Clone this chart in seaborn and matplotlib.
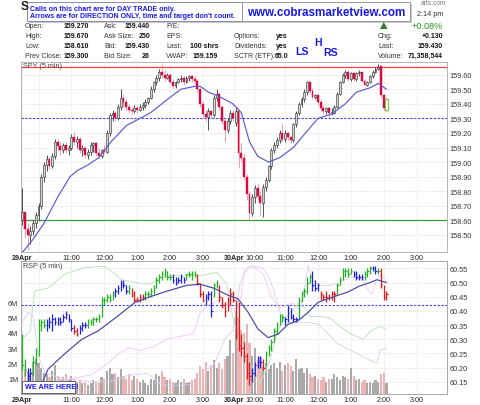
import numpy as np
import matplotlib
matplotlib.use("Agg")
import matplotlib.pyplot as plt
import seaborn as sns
from matplotlib.patches import Rectangle, Polygon


# SPY 5 min candles, 29 Apr (78 bars) then 30 Apr up to 2:05 (56 bars)
spy_open = [158.60, 158.66, 158.54, 158.50, 158.53, 158.58, 158.64, 158.70, 158.90, 158.98,
            159.02, 158.97, 159.04, 159.14, 159.11, 159.08, 159.12, 159.08, 159.10, 159.17,
            159.14, 159.16, 159.08, 159.10, 159.05, 159.07, 159.12, 159.13, 159.06, 159.04,
            159.08, 159.07, 159.20, 159.32, 159.34, 159.30, 159.38, 159.44, 159.41, 159.38,
            159.36, 159.35, 159.37, 159.36, 159.38, 159.39, 159.41, 159.44, 159.50, 159.55,
            159.58, 159.62, 159.60, 159.58, 159.60, 159.55, 159.52, 159.55, 159.57, 159.58,
            159.55, 159.58, 159.59, 159.57, 159.56, 159.50, 159.40, 159.33, 159.31, 159.35,
            159.32, 159.44, 159.47, 159.38, 159.28, 159.22, 159.28, 159.34,
            159.27, 159.35, 159.06, 159.03, 158.90, 158.78, 158.65, 158.76, 158.82, 158.77,
            158.72, 158.83, 158.88, 158.97, 159.08, 159.12, 159.15, 159.20, 159.16, 159.20,
            159.17, 159.15, 159.26, 159.34, 159.40, 159.43, 159.48, 159.55, 159.49, 159.45,
            159.46, 159.41, 159.37, 159.35, 159.37, 159.34, 159.34, 159.38, 159.47, 159.55,
            159.60, 159.62, 159.57, 159.61, 159.57, 159.61, 159.62, 159.56, 159.53, 159.55,
            159.59, 159.62, 159.64, 159.66, 159.46, 159.36]
spy_high = [158.82, 158.66, 158.58, 158.56, 158.60, 158.66, 158.72, 158.92, 159.00, 159.05,
            159.04, 159.06, 159.16, 159.16, 159.14, 159.13, 159.14, 159.12, 159.19, 159.21,
            159.18, 159.17, 159.12, 159.11, 159.09, 159.14, 159.14, 159.14, 159.10, 159.09,
            159.12, 159.22, 159.34, 159.36, 159.35, 159.40, 159.50, 159.47, 159.43, 159.40,
            159.38, 159.39, 159.39, 159.40, 159.41, 159.43, 159.45, 159.52, 159.56, 159.60,
            159.64, 159.67, 159.63, 159.61, 159.61, 159.57, 159.56, 159.58, 159.60, 159.59,
            159.59, 159.60, 159.60, 159.59, 159.57, 159.51, 159.42, 159.36, 159.37, 159.36,
            159.46, 159.50, 159.48, 159.39, 159.30, 159.30, 159.36, 159.36,
            159.38, 159.36, 159.13, 159.06, 158.92, 158.80, 158.78, 158.84, 158.85, 158.80,
            158.85, 158.90, 158.98, 159.10, 159.14, 159.17, 159.22, 159.27, 159.22, 159.21,
            159.18, 159.27, 159.35, 159.41, 159.45, 159.50, 159.56, 159.56, 159.51, 159.47,
            159.47, 159.43, 159.39, 159.38, 159.38, 159.37, 159.39, 159.48, 159.56, 159.61,
            159.63, 159.63, 159.62, 159.62, 159.62, 159.63, 159.62, 159.57, 159.56, 159.60,
            159.63, 159.65, 159.67, 159.66, 159.47, 159.44]
spy_low = [158.57, 158.48, 158.40, 158.44, 158.50, 158.55, 158.60, 158.68, 158.86, 158.94,
           158.95, 158.96, 159.02, 159.08, 159.05, 159.06, 159.06, 159.05, 159.08, 159.12,
           159.10, 159.06, 159.04, 159.03, 159.02, 159.05, 159.07, 159.04, 159.03, 159.03,
           159.06, 159.06, 159.18, 159.28, 159.28, 159.29, 159.36, 159.38, 159.36, 159.34,
           159.33, 159.34, 159.34, 159.35, 159.36, 159.37, 159.40, 159.43, 159.48, 159.53,
           159.56, 159.58, 159.56, 159.57, 159.54, 159.50, 159.51, 159.54, 159.55, 159.53,
           159.54, 159.56, 159.55, 159.54, 159.48, 159.38, 159.31, 159.28, 159.22, 159.30,
           159.31, 159.42, 159.36, 159.26, 159.14, 159.20, 159.26, 159.28,
           159.25, 158.96, 159.00, 158.88, 158.74, 158.61, 158.63, 158.72, 158.75, 158.64,
           158.62, 158.80, 158.86, 158.95, 159.06, 159.10, 159.13, 159.14, 159.14, 159.15,
           159.13, 159.14, 159.24, 159.32, 159.38, 159.41, 159.46, 159.47, 159.43, 159.43,
           159.39, 159.35, 159.33, 159.33, 159.31, 159.32, 159.33, 159.37, 159.46, 159.54,
           159.58, 159.56, 159.56, 159.56, 159.56, 159.59, 159.55, 159.52, 159.52, 159.54,
           159.58, 159.61, 159.63, 159.44, 159.35, 159.35]
spy_close = [158.66, 158.54, 158.50, 158.53, 158.58, 158.64, 158.70, 158.90, 158.98, 159.02,
             158.97, 159.04, 159.14, 159.11, 159.08, 159.12, 159.08, 159.10, 159.17, 159.14,
             159.16, 159.08, 159.10, 159.05, 159.07, 159.12, 159.13, 159.06, 159.04, 159.08,
             159.07, 159.20, 159.32, 159.34, 159.30, 159.38, 159.44, 159.41, 159.38, 159.36,
             159.35, 159.37, 159.36, 159.38, 159.39, 159.41, 159.44, 159.50, 159.55, 159.58,
             159.62, 159.60, 159.58, 159.60, 159.55, 159.52, 159.55, 159.57, 159.58, 159.55,
             159.58, 159.59, 159.57, 159.56, 159.50, 159.40, 159.33, 159.31, 159.35, 159.32,
             159.44, 159.47, 159.38, 159.28, 159.22, 159.28, 159.34, 159.30,
             159.35, 159.06, 159.03, 158.90, 158.78, 158.65, 158.76, 158.82, 158.77, 158.72,
             158.83, 158.88, 158.97, 159.08, 159.12, 159.15, 159.20, 159.16, 159.20, 159.17,
             159.15, 159.26, 159.34, 159.40, 159.43, 159.48, 159.55, 159.49, 159.45, 159.46,
             159.41, 159.37, 159.35, 159.37, 159.34, 159.34, 159.38, 159.47, 159.55, 159.60,
             159.62, 159.57, 159.61, 159.57, 159.61, 159.62, 159.56, 159.53, 159.55, 159.59,
             159.62, 159.64, 159.65, 159.46, 159.37, 159.43]

# moving average (bar index, price)
spy_ma_x = [0, 1, 4, 8, 13, 17.5, 20, 24, 28, 32, 38, 41, 47, 53, 58, 63, 65, 68, 72, 77,
            80, 83, 86, 90, 94, 99, 103, 108, 113, 118, 122, 127, 130, 133]
spy_ma_y = [158.38, 158.40, 158.47, 158.58, 158.76, 158.90, 158.94, 158.98, 159.03, 159.13,
            159.25, 159.28, 159.34, 159.43, 159.50, 159.52, 159.52, 159.48, 159.45, 159.40,
            159.34, 159.14, 159.04, 159.00, 159.03, 159.10, 159.19, 159.30, 159.33, 159.40,
            159.48, 159.51, 159.54, 159.50]

# RSP 5 min bars (high / low / close), colour code per bar
rsp_high = [60.32, 60.23, 60.20, 60.20, 60.24, 60.27, 60.37, 60.37, 60.37, 60.37,
            60.38, 60.39, 60.38, 60.38, 60.38, 60.39, 60.40, 60.39, 60.37, 60.35,
            60.34, 60.35, 60.36, 60.36, 60.37, 60.37, 60.38, 60.38, 60.39, 60.45,
            60.45, 60.46, 60.46, 60.47, 60.48, 60.49, 60.51, 60.51, 60.49, 60.49,
            60.48, 60.47, 60.45, 60.46, 60.46, 60.47, 60.47, 60.48, 60.49, 60.52,
            60.53, 60.54, 60.55, 60.54, 60.53, 60.53, 60.52, 60.52, 60.53, 60.52,
            60.53, 60.54, 60.54, 60.54, 60.53, 60.50, 60.47, 60.46, 60.47, 60.47,
            60.50, 60.51, 60.49, 60.45, 60.43, 60.45, 60.48, 60.47,
            60.44, 60.43, 60.32, 60.29, 60.25, 60.22, 60.20, 60.22, 60.24, 60.24,
            60.23, 60.26, 60.28, 60.30, 60.34, 60.36, 60.39, 60.39, 60.38, 60.42,
            60.41, 60.39, 60.38, 60.45, 60.47, 60.48, 60.52, 60.53, 60.54, 60.51,
            60.50, 60.47, 60.46, 60.47, 60.46, 60.47, 60.47, 60.50, 60.52, 60.55,
            60.55, 60.55, 60.55, 60.54, 60.54, 60.53, 60.53, 60.54, 60.55, 60.56,
            60.56, 60.56, 60.55, 60.55, 60.49, 60.47]
rsp_low = [60.19, 60.17, 60.15, 60.15, 60.17, 60.21, 60.24, 60.33, 60.34, 60.33,
           60.34, 60.33, 60.35, 60.35, 60.35, 60.36, 60.37, 60.36, 60.33, 60.32,
           60.31, 60.32, 60.33, 60.34, 60.34, 60.35, 60.35, 60.36, 60.36, 60.38,
           60.42, 60.43, 60.43, 60.44, 60.45, 60.46, 60.47, 60.48, 60.46, 60.46,
           60.45, 60.43, 60.43, 60.43, 60.44, 60.44, 60.45, 60.45, 60.46, 60.48,
           60.50, 60.51, 60.52, 60.51, 60.51, 60.50, 60.49, 60.50, 60.50, 60.50,
           60.51, 60.52, 60.51, 60.52, 60.49, 60.45, 60.43, 60.42, 60.44, 60.38,
           60.45, 60.48, 60.43, 60.41, 60.38, 60.40, 60.42, 60.43,
           60.30, 60.26, 60.24, 60.22, 60.16, 60.14, 60.15, 60.17, 60.20, 60.20,
           60.19, 60.21, 60.24, 60.26, 60.29, 60.32, 60.35, 60.36, 60.35, 60.36,
           60.37, 60.36, 60.36, 60.37, 60.43, 60.45, 60.46, 60.50, 60.47, 60.47,
           60.47, 60.44, 60.44, 60.43, 60.44, 60.44, 60.43, 60.46, 60.49, 60.51,
           60.52, 60.52, 60.53, 60.52, 60.51, 60.51, 60.51, 60.51, 60.52, 60.53,
           60.54, 60.53, 60.53, 60.48, 60.44, 60.44]
rsp_close = [60.21, 60.19, 60.17, 60.18, 60.22, 60.25, 60.35, 60.36, 60.35, 60.35,
             60.36, 60.37, 60.36, 60.37, 60.36, 60.38, 60.39, 60.37, 60.34, 60.33,
             60.32, 60.34, 60.35, 60.35, 60.36, 60.36, 60.37, 60.37, 60.38, 60.44,
             60.44, 60.45, 60.44, 60.46, 60.47, 60.48, 60.50, 60.49, 60.47, 60.48,
             60.46, 60.44, 60.44, 60.45, 60.45, 60.46, 60.46, 60.47, 60.48, 60.51,
             60.52, 60.53, 60.54, 60.52, 60.52, 60.51, 60.50, 60.51, 60.52, 60.51,
             60.53, 60.53, 60.53, 60.53, 60.50, 60.46, 60.44, 60.45, 60.46, 60.40,
             60.49, 60.50, 60.45, 60.42, 60.40, 60.44, 60.46, 60.44,
             60.32, 60.28, 60.27, 60.24, 60.18, 60.17, 60.18, 60.21, 60.22, 60.22,
             60.20, 60.25, 60.27, 60.29, 60.33, 60.35, 60.38, 60.38, 60.37, 60.41,
             60.38, 60.37, 60.37, 60.44, 60.46, 60.47, 60.50, 60.52, 60.49, 60.48,
             60.49, 60.46, 60.45, 60.45, 60.45, 60.46, 60.46, 60.49, 60.51, 60.54,
             60.54, 60.53, 60.54, 60.53, 60.52, 60.52, 60.52, 60.53, 60.54, 60.55,
             60.55, 60.54, 60.54, 60.49, 60.45, 60.46]
rsp_colour = ("ggbbgggggb" "bbbbbbbbbr" "rbbbgggggg" "ggggbbbbbg" "rrrrrggggg"
              "gggggbbbbb" "ggggrrrbbb" "ggrrrrrr"
              "rrrrrr" "bbbb" "r" "ggggggg" "bbbbb" "ggggg" "bbb" "rrrrrr"
              "gggggg" "bbbb" "ggg" "bb" "g" "rrr")

volume_m = [2.2, 1.6, 1.5, 1.4, 2.1, 2.3, 2.0, 1.7, 1.4, 1.3,
            1.1, 1.5, 1.9, 1.2, 1.0, 1.1, 1.3, 0.9, 1.2, 1.0,
            0.8, 0.9, 0.7, 0.8, 0.6, 0.7, 0.9, 0.8, 0.7, 1.1,
            1.0, 1.5, 1.7, 1.3, 1.4, 1.1, 1.6, 1.2, 1.0, 1.3,
            0.9, 1.2, 1.0, 0.8, 0.9, 0.7, 0.6, 1.0, 0.9, 1.3,
            1.2, 1.5, 1.1, 0.9, 1.0, 0.8, 0.7, 0.9, 0.8, 1.0,
            0.7, 0.8, 0.9, 1.0, 1.4, 1.8, 1.6, 2.1, 1.5, 1.9,
            2.2, 1.7, 2.0, 1.6, 2.3, 2.5, 3.5, 2.7,
            5.4, 5.0, 4.2, 4.0, 4.6, 3.3, 2.5, 3.0, 2.2, 2.4,
            1.8, 2.0, 1.6, 1.9, 2.0, 1.7, 2.1, 1.5, 1.9, 2.0,
            1.8, 1.5, 2.3, 1.6, 1.7, 1.4, 1.7, 1.3, 1.1, 1.2,
            1.0, 0.9, 1.1, 0.8, 1.0, 1.0, 1.3, 1.1, 0.9, 1.2,
            1.1, 1.0, 1.7, 1.2, 0.9, 1.0, 0.8, 0.9, 0.7, 0.8,
            0.7, 0.9, 0.8, 1.3, 1.4, 0.7]

rsp_ma_x = [6.6, 9.5, 15.7, 21.8, 27.8, 34, 41.2, 46.7, 53, 60, 65, 70, 75.2, 78.8, 82.5,
            86.1, 89.8, 93.4, 97.1, 100.7, 104.4, 108, 111.7, 115.3, 119, 123, 127, 129.5, 133]
rsp_ma_y = [60.13, 60.195, 60.25, 60.30, 60.33, 60.375, 60.43, 60.45, 60.47, 60.49, 60.494,
            60.48, 60.455, 60.443, 60.395, 60.336, 60.306, 60.318, 60.353, 60.365, 60.395,
            60.43, 60.443, 60.455, 60.467, 60.487, 60.50, 60.51, 60.50]

# faint comparison lines in the lower panel
green_x = [0, 3, 4.5, 9.5, 15.7, 21.8, 26.6, 30.3, 34, 36.4, 41.2, 46.7, 50.4, 55.2, 65, 71,
           74.7, 77.1, 79.6, 84.5, 86.9, 90.5, 93, 95.4, 97.8, 100.9, 103.9, 105.1, 108.8,
           112.4, 116.1, 119.7, 124.6, 127.7, 130.7, 133.1]
green_y = [60.30, 60.33, 60.47, 60.48, 60.53, 60.55, 60.556, 60.556, 60.53, 60.51, 60.50,
           60.494, 60.518, 60.524, 60.524, 60.536, 60.494, 60.369, 60.286, 60.19, 60.143,
           60.226, 60.32, 60.369, 60.393, 60.428, 60.405, 60.38, 60.38, 60.375, 60.345,
           60.32, 60.30, 60.333, 60.345, 60.333]
lav_x = [0, 2.3, 4.1, 6, 8.4, 15.7, 27.7, 34, 37.6, 41, 46, 50, 54, 61, 65, 70, 74, 77,
         79.6, 82.5, 86, 88, 90, 92, 94, 96, 103, 108, 111.7, 115, 119.7, 123.4, 127, 129.5,
         130.7, 133]
lav_y = [60.36, 60.395, 60.38, 60.24, 60.18, 60.16, 60.15, 60.155, 60.17, 60.175, 60.18,
         60.145, 60.135, 60.14, 60.18, 60.21, 60.30, 60.33, 60.50, 60.555, 60.555, 60.55,
         60.52, 60.47, 60.40, 60.36, 60.36, 60.355, 60.32, 60.285, 60.262, 60.244, 60.226,
         60.214, 60.262, 60.268]
pink_x = [10, 17.5, 25.4, 31.5, 35.2, 38.8, 43, 48, 52.8, 57.7, 62.5, 65, 67.4, 72.3, 77.1,
          79.6, 81, 84, 88, 91, 94, 98.9, 101.3, 103, 104.4, 106, 108, 112, 116, 120, 124.6,
          126, 127.7, 129, 131, 133]
pink_y = [60.15, 60.16, 60.175, 60.217, 60.25, 60.27, 60.26, 60.274, 60.30, 60.31, 60.32,
          60.393, 60.417, 60.44, 60.405, 60.42, 60.54, 60.56, 60.53, 60.45, 60.41, 60.43,
          60.40, 60.48, 60.56, 60.51, 60.49, 60.49, 60.50, 60.52, 60.51, 60.48, 60.46, 60.50,
          60.53, 60.50]

tick_pos = [0, 6, 18, 30, 42, 54, 66, 77.5, 84.8, 96, 108, 120, 132, 144]
tick_lab = ["29Apr", "", "11:00", "12:00", "1:00", "2:00", "3:00",
            "30Apr", "10:00", "11:00", "12:00", "1:00", "2:00", "3:00"]

info_rows = [26.7, 36.7, 46.7, 56.7]
info_cols = [
    (25, 89, ["Open:", "High:", "Low:", "Prev Close:"], ["159.270", "159.670", "158.610", "159.300"]),
    (104, 150, ["Ask:", "Ask Size:", "Bid:", "Bid Size:"], ["159.440", "250", "159.430", "26"]),
    (166, 218, ["P/E:", "EPS:", "Last:", "VWAP:"], ["", "", "100 shrs", "159.159"]),
    (234, 288, ["", "Options:", "Dividends:", "SCTR (ETF):"], ["", "yes", "yes", "65.0"]),
    (378, 443, ["", "Chg:", "Last:", "Volume:"], ["", "+0.130", "159.430", "71,358,544"]),
]

W, H = 480, 406
XMIN, XMAX = -0.4, 155.1


def fx(px):
    return px / W


def fy(py):
    return 1 - py / H


def ftext(x, y, s, **kw):
    kw.setdefault("va", "center")
    kw.setdefault("fontsize", 5.0)
    return fig.text(fx(x), fy(y), s, zorder=12, **kw)


def fbox(x0, y0, x1, y1, fc="white", ec="#888888", lw=0.7, z=11):
    r = Rectangle((fx(x0), fy(y1)), (x1 - x0) / W, (y1 - y0) / H, transform=fig.transFigure,
                  fc=fc, ec=ec, lw=lw, zorder=z)
    fig.add_artist(r)


def style_axis(ax):
    for s in ax.spines.values():
        s.set_color("#a8a8a8")
        s.set_linewidth(0.6)
    ax.set_xlim(XMIN, XMAX)
    ax.set_xticks(tick_pos)
    ax.set_xticklabels(tick_lab)
    ax.tick_params(axis="x", length=0, pad=1.5, labelsize=5.2, labelcolor="#222222")
    for t in ax.get_xticklabels():
        if "Apr" in t.get_text():
            t.set_fontweight("bold")
    ax.grid(True, axis="x", color="#c8c8c8", ls=(0, (1, 2)), lw=0.5)


sns.set_style("white")
plt.rcParams["font.family"] = ["Liberation Sans", "DejaVu Sans"]

fig = plt.figure(figsize=(4.8, 4.06), dpi=100)
ax1 = fig.add_axes([fx(21), fy(253), (447 - 21) / W, (253 - 63) / H])
ax2 = fig.add_axes([fx(21), fy(395), (447 - 21) / W, (395 - 262) / H])
ax3 = ax2.twinx()

# ---------------- SPY candles ----------------
idx = np.arange(len(spy_close))
o = np.array(spy_open)
c = np.array(spy_close)
hi = np.array(spy_high)
lo = np.array(spy_low)
up = c >= o
bot = np.minimum(o, c)
hgt = np.maximum(np.abs(c - o), 0.005)

ax1.vlines(idx[up], lo[up], hi[up], color="#333333", lw=0.6, zorder=3)
ax1.vlines(idx[~up], lo[~up], hi[~up], color="#f28ea4", lw=0.6, zorder=3)
last = idx == idx[-1]
ax1.bar(idx[up & ~last], hgt[up & ~last], bottom=bot[up & ~last], width=0.7,
        color="#d2d2d2", edgecolor="#2a2a2a", lw=0.4, zorder=4)
ax1.bar(idx[~up], hgt[~up], bottom=bot[~up], width=0.7,
        color="#e0073b", edgecolor="#e0073b", lw=0.3, zorder=4)
ax1.bar(idx[last], hgt[last], bottom=bot[last], width=0.8,
        color="white", edgecolor="#7ccc44", lw=0.8, zorder=5)

sns.lineplot(x=spy_ma_x, y=spy_ma_y, ax=ax1, color="#5a5ad2", lw=0.85,
             estimator=None, sort=False, legend=False, zorder=5)

ax1.axhline(159.65, color="#ff4040", lw=0.9, zorder=2)
ax1.axhline(158.60, color="#3a9a3a", lw=0.9, zorder=2)
ax1.axhline(159.30, color="#3a3aee", lw=0.8, ls=(0, (2, 1.5)), zorder=2)

ax1.set_ylim(158.383, 159.687)
ax1.set_yticks(np.round(np.arange(158.5, 159.61, 0.1), 2))
ax1.set_yticklabels([f"{v:.2f}" for v in np.arange(158.5, 159.61, 0.1)])
ax1.yaxis.tick_right()
ax1.tick_params(axis="y", length=0, pad=2, labelsize=5.2, labelcolor="#333333")
ax1.grid(True, axis="y", color="#c8c8c8", ls=(0, (1, 2)), lw=0.5)
style_axis(ax1)
ax1.set_xlabel("")
ax1.set_ylabel("")

# ---------------- volume (left scale) ----------------
vol_col = ["#a9a9a9" if u else "#efb3b3" for u in up]
ax2.bar(idx, volume_m, width=0.78, color=vol_col, edgecolor="none", zorder=2)
ax2.set_ylim(0, 8.68)
ax2.set_yticks([1, 2, 3, 4, 5, 6])
ax2.set_yticklabels(["1M", "2M", "3M", "4M", "5M", "6M"])
ax2.tick_params(axis="y", length=0, pad=2, labelsize=5.2, labelcolor="#333333")
style_axis(ax2)

# ---------------- RSP bars (right scale) ----------------
cmap = {"g": "#22b322", "b": "#2020ee", "r": "#ee1515"}
cols = [cmap[k] for k in rsp_colour]
ax3.vlines(idx, rsp_low, rsp_high, colors=cols, lw=0.9, zorder=4)
ax3.hlines(rsp_close, idx, idx + 0.55, colors=cols, lw=0.9, zorder=4)

sns.lineplot(x=green_x, y=green_y, ax=ax3, color="#bfe0bf", lw=0.65,
             estimator=None, sort=False, legend=False, zorder=3)
sns.lineplot(x=lav_x, y=lav_y, ax=ax3, color="#dccdf3", lw=0.6,
             estimator=None, sort=False, legend=False, zorder=3)
sns.lineplot(x=pink_x, y=pink_y, ax=ax3, color="#f3c6f1", lw=0.6,
             estimator=None, sort=False, legend=False, zorder=3)
sns.lineplot(x=rsp_ma_x, y=rsp_ma_y, ax=ax3, color="#4545a8", lw=0.85,
             estimator=None, sort=False, legend=False, zorder=5)
ax3.axhline(60.42, color="#3a3aee", lw=0.8, ls=(0, (2, 1.5)), zorder=2)

ax3.set_ylim(60.107, 60.576)
ax3.set_yticks(np.round(np.arange(60.15, 60.551, 0.05), 2))
ax3.set_yticklabels([f"{v:.2f}" for v in np.arange(60.15, 60.551, 0.05)])
ax3.tick_params(axis="y", length=0, pad=2, labelsize=5.2, labelcolor="#333333")
ax3.grid(True, axis="y", color="#c8c8c8", ls=(0, (1, 2)), lw=0.5)
ax3.set_xlim(XMIN, XMAX)
for s in ax3.spines.values():
    s.set_color("#a8a8a8")
    s.set_linewidth(0.6)
ax3.set_ylabel("")

# ---------------- panel captions ----------------
ftext(23, 66.5, "SPY (5 min)", color="#444444", fontsize=5.2)
ftext(23, 266.5, "RSP (5 min)", color="#444444", fontsize=5.2)

fbox(23, 383, 76, 395, fc="#bdbdbd", ec="none", lw=0)
fbox(22, 382, 75, 394, ec="#666666", lw=0.7, z=11.5)
ftext(25, 388, "WE ARE HERE!", color="#1a1ae6", fontweight="bold", fontsize=5.2)

# ---------------- header ----------------
ftext(21, 7.5, "S", fontsize=8.5, fontweight="bold", color="#222222")
ftext(446, 3.5, "arts.com", color="#777777", fontsize=4.8, ha="right")
ftext(443, 14, "2:14 pm", color="#333333", fontsize=5.2, ha="right")

fbox(28.5, 4.5, 243.5, 23.5, fc="#c8c8c8", ec="none", lw=0)
fbox(27, 3, 242, 22, ec="#8a8ab0", lw=0.7, z=11.5)
ftext(30, 9.3, "Calls on this chart are for DAY TRADE only.", color="#1a1ae6",
      fontweight="bold", fontsize=5.05)
ftext(30, 16.7, "Arrows are for DIRECTION ONLY, time and target don't count.", color="#1a1ae6",
      fontweight="bold", fontsize=5.05)

fbox(243.5, 4.5, 411.5, 23.5, fc="#c8c8c8", ec="none", lw=0)
fbox(242, 3, 410, 22, ec="#999999", lw=0.7, z=11.5)
ftext(326, 13, "www.cobrasmarketview.com", color="#1a1ae6", fontweight="bold",
      fontsize=8.4, ha="center")

tri = Polygon([[fx(380), fy(30)], [fx(387.5), fy(30)], [fx(383.75), fy(23)]],
              closed=True, transform=fig.transFigure, fc="#2e7d32", ec="none", zorder=12)
fig.add_artist(tri)
ftext(443, 26.5, "+0.08%", color="#1f9a1f", fontsize=6.6, ha="right")

for lx, vx, labs, vals in info_cols:
    for yy, lab, val in zip(info_rows, labs, vals):
        if lab:
            ftext(lx, yy, lab, color="#333333")
        if val:
            ftext(vx, yy, val, color="#111111", fontweight="bold", ha="right")

ftext(295, 52, "LS", color="#1a1ae6", fontweight="bold", fontsize=7.6)
ftext(314, 43.5, "H", color="#1a1ae6", fontweight="bold", fontsize=7.6)
ftext(323, 52.5, "RS", color="#1a1ae6", fontweight="bold", fontsize=7.6)

fig.savefig("out.png", dpi=100)
